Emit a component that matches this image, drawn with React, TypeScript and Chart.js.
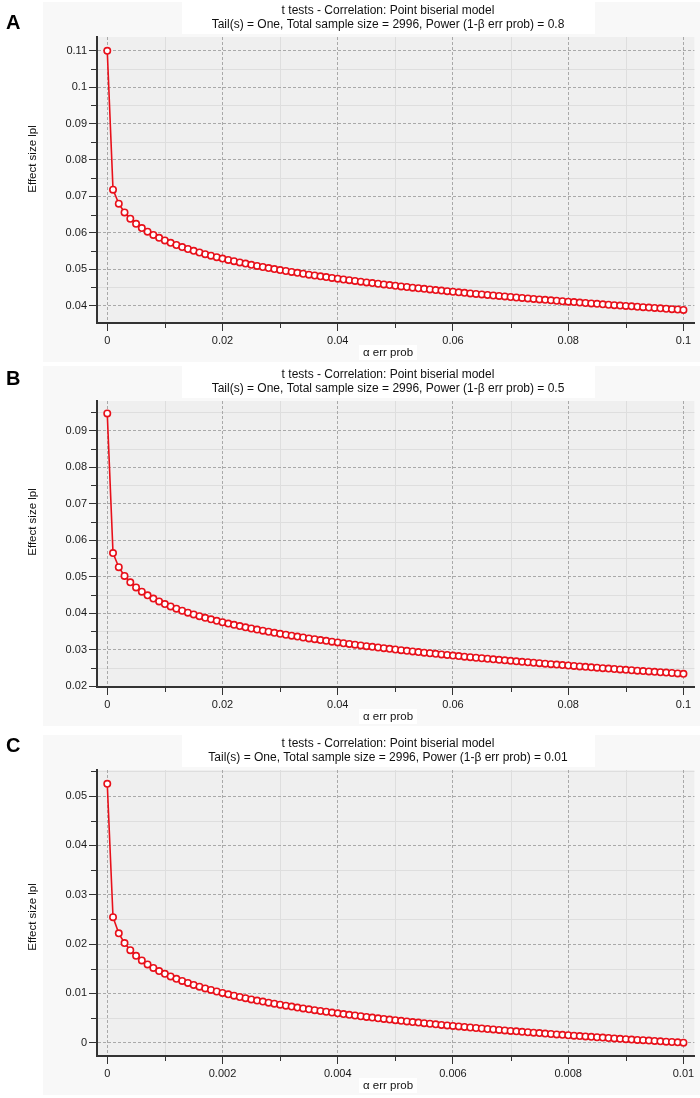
import React, { useEffect, useRef } from "react";
import { Chart, registerables } from "chart.js";

Chart.register(...registerables);

// ---------- data ----------
const alphaAB = [
  0, 0.001, 0.002, 0.003, 0.004, 0.005, 0.006, 0.007, 0.008, 0.009,
  0.01, 0.011, 0.012, 0.013, 0.014, 0.015, 0.016, 0.017, 0.018, 0.019,
  0.02, 0.021, 0.022, 0.023, 0.024, 0.025, 0.026, 0.027, 0.028, 0.029,
  0.03, 0.031, 0.032, 0.033, 0.034, 0.035, 0.036, 0.037, 0.038, 0.039,
  0.04, 0.041, 0.042, 0.043, 0.044, 0.045, 0.046, 0.047, 0.048, 0.049,
  0.05, 0.051, 0.052, 0.053, 0.054, 0.055, 0.056, 0.057, 0.058, 0.059,
  0.06, 0.061, 0.062, 0.063, 0.064, 0.065, 0.066, 0.067, 0.068, 0.069,
  0.07, 0.071, 0.072, 0.073, 0.074, 0.075, 0.076, 0.077, 0.078, 0.079,
  0.08, 0.081, 0.082, 0.083, 0.084, 0.085, 0.086, 0.087, 0.088, 0.089,
  0.09, 0.091, 0.092, 0.093, 0.094, 0.095, 0.096, 0.097, 0.098, 0.099,
  0.1,
];

const alphaC = [
  0, 0.0001, 0.0002, 0.0003, 0.0004, 0.0005, 0.0006, 0.0007, 0.0008, 0.0009,
  0.001, 0.0011, 0.0012, 0.0013, 0.0014, 0.0015, 0.0016, 0.0017, 0.0018, 0.0019,
  0.002, 0.0021, 0.0022, 0.0023, 0.0024, 0.0025, 0.0026, 0.0027, 0.0028, 0.0029,
  0.003, 0.0031, 0.0032, 0.0033, 0.0034, 0.0035, 0.0036, 0.0037, 0.0038, 0.0039,
  0.004, 0.0041, 0.0042, 0.0043, 0.0044, 0.0045, 0.0046, 0.0047, 0.0048, 0.0049,
  0.005, 0.0051, 0.0052, 0.0053, 0.0054, 0.0055, 0.0056, 0.0057, 0.0058, 0.0059,
  0.006, 0.0061, 0.0062, 0.0063, 0.0064, 0.0065, 0.0066, 0.0067, 0.0068, 0.0069,
  0.007, 0.0071, 0.0072, 0.0073, 0.0074, 0.0075, 0.0076, 0.0077, 0.0078, 0.0079,
  0.008, 0.0081, 0.0082, 0.0083, 0.0084, 0.0085, 0.0086, 0.0087, 0.0088, 0.0089,
  0.009, 0.0091, 0.0092, 0.0093, 0.0094, 0.0095, 0.0096, 0.0097, 0.0098, 0.0099,
  0.01,
];

const effectA = [
  0.11, 0.07185, 0.06798, 0.0656, 0.06385, 0.06245, 0.06129, 0.06029, 0.0594, 0.05861,
  0.05789, 0.05724, 0.05663, 0.05606, 0.05554, 0.05504, 0.05457, 0.05412, 0.0537, 0.0533,
  0.05291, 0.05254, 0.05219, 0.05185, 0.05152, 0.0512, 0.05089, 0.05059, 0.0503, 0.05002,
  0.04975, 0.04949, 0.04923, 0.04898, 0.04873, 0.04849, 0.04826, 0.04803, 0.04781, 0.04759,
  0.04737, 0.04716, 0.04696, 0.04676, 0.04656, 0.04636, 0.04617, 0.04599, 0.0458, 0.04562,
  0.04544, 0.04526, 0.04509, 0.04492, 0.04475, 0.04459, 0.04442, 0.04426, 0.0441, 0.04395,
  0.04379, 0.04364, 0.04349, 0.04334, 0.04319, 0.04305, 0.04291, 0.04276, 0.04263, 0.04249,
  0.04235, 0.04221, 0.04208, 0.04195, 0.04182, 0.04169, 0.04156, 0.04143, 0.04131, 0.04118,
  0.04106, 0.04094, 0.04081, 0.04069, 0.04058, 0.04046, 0.04034, 0.04022, 0.04011, 0.03999,
  0.03988, 0.03977, 0.03966, 0.03955, 0.03944, 0.03933, 0.03922, 0.03912, 0.03901, 0.03891,
  0.0388,
];

const effectB = [
  0.0947, 0.05647, 0.0526, 0.05022, 0.04847, 0.04707, 0.04591, 0.04491, 0.04402, 0.04323,
  0.04251, 0.04186, 0.04125, 0.04068, 0.04016, 0.03966, 0.03919, 0.03874, 0.03832, 0.03792,
  0.03753, 0.03716, 0.03681, 0.03647, 0.03614, 0.03582, 0.03551, 0.03521, 0.03492, 0.03464,
  0.03437, 0.03411, 0.03385, 0.0336, 0.03335, 0.03311, 0.03288, 0.03265, 0.03243, 0.03221,
  0.03199, 0.03178, 0.03158, 0.03138, 0.03118, 0.03098, 0.03079, 0.03061, 0.03042, 0.03024,
  0.03006, 0.02988, 0.02971, 0.02954, 0.02937, 0.02921, 0.02904, 0.02888, 0.02872, 0.02857,
  0.02841, 0.02826, 0.02811, 0.02796, 0.02781, 0.02767, 0.02753, 0.02738, 0.02725, 0.02711,
  0.02697, 0.02683, 0.0267, 0.02657, 0.02644, 0.02631, 0.02618, 0.02605, 0.02593, 0.0258,
  0.02568, 0.02556, 0.02543, 0.02531, 0.0252, 0.02508, 0.02496, 0.02484, 0.02473, 0.02461,
  0.0245, 0.02439, 0.02428, 0.02417, 0.02406, 0.02395, 0.02384, 0.02374, 0.02363, 0.02353,
  0.02342,
];

const effectC = [
  0.0525, 0.02545, 0.02218, 0.0202, 0.01876, 0.01762, 0.01668, 0.01587, 0.01516, 0.01453,
  0.01396, 0.01344, 0.01296, 0.01252, 0.01211, 0.01172, 0.01136, 0.01101, 0.01069, 0.01038,
  0.01009, 0.0098, 0.00953, 0.00927, 0.00903, 0.00878, 0.00855, 0.00833, 0.00811, 0.00791,
  0.0077, 0.00751, 0.00732, 0.00713, 0.00695, 0.00677, 0.0066, 0.00643, 0.00627, 0.00611,
  0.00595, 0.0058, 0.00565, 0.00551, 0.00536, 0.00522, 0.00509, 0.00495, 0.00482, 0.00469,
  0.00456, 0.00444, 0.00431, 0.00419, 0.00407, 0.00395, 0.00384, 0.00373, 0.00361, 0.00351,
  0.0034, 0.00329, 0.00319, 0.00308, 0.00298, 0.00288, 0.00278, 0.00268, 0.00258, 0.00249,
  0.00239, 0.0023, 0.00221, 0.00212, 0.00203, 0.00194, 0.00185, 0.00176, 0.00168, 0.00159,
  0.00151, 0.00143, 0.00135, 0.00126, 0.00118, 0.0011, 0.00103, 0.00095, 0.00087, 0.00079,
  0.00072, 0.00064, 0.00057, 0.0005, 0.00042, 0.00035, 0.00028, 0.00021, 0.00014, 0.00007,
  0,
];

const xTicksAB = [0, 0.02, 0.04, 0.06, 0.08, 0.1];
const xMinorAB = [0.01, 0.03, 0.05, 0.07, 0.09];
const xTicksC = [0, 0.002, 0.004, 0.006, 0.008, 0.01];
const xMinorC = [0.001, 0.003, 0.005, 0.007, 0.009];

const yTicksA = [0.04, 0.05, 0.06, 0.07, 0.08, 0.09, 0.1, 0.11];
const yMinorA = [0.045, 0.055, 0.065, 0.075, 0.085, 0.095, 0.105];
const yTicksB = [0.02, 0.03, 0.04, 0.05, 0.06, 0.07, 0.08, 0.09];
const yMinorB = [0.025, 0.035, 0.045, 0.055, 0.065, 0.075, 0.085, 0.095];
const yTicksC = [0, 0.01, 0.02, 0.03, 0.04, 0.05];
const yMinorC = [0.005, 0.015, 0.025, 0.035, 0.045, 0.055];

const titleLine1 = "t tests - Correlation: Point biserial model";
const titleLine2A = "Tail(s) = One, Total sample size = 2996, Power (1-\u03b2 err prob) = 0.8";
const titleLine2B = "Tail(s) = One, Total sample size = 2996, Power (1-\u03b2 err prob) = 0.5";
const titleLine2C = "Tail(s) = One, Total sample size = 2996, Power (1-\u03b2 err prob) = 0.01";
const xAxisTitle = "\u03b1 err prob";
const yAxisTitle = "Effect size lpl";

// ---------- panel configs ----------
type PanelCfg = {
  letter: string;
  letterY: number;
  top: number;
  title2: string;
  xs: number[];
  ys: number[];
  xTicks: number[];
  xMinor: number[];
  yTicks: number[];
  yMinor: number[];
  xMin: number;
  xMax: number;
  yMin: number;
  yMax: number;
  yLabelY: number;
};

const panels: PanelCfg[] = [
  {
    letter: "A", letterY: 21, top: 2, title2: titleLine2A,
    xs: alphaAB, ys: effectA, xTicks: xTicksAB, xMinor: xMinorAB,
    yTicks: yTicksA, yMinor: yMinorA,
    xMin: -0.00178, xMax: 0.1019, yMin: 0.0352, yMax: 0.1138, yLabelY: 157,
  },
  {
    letter: "B", letterY: 13, top: 366, title2: titleLine2B,
    xs: alphaAB, ys: effectB, xTicks: xTicksAB, xMinor: xMinorAB,
    yTicks: yTicksB, yMinor: yMinorB,
    xMin: -0.00178, xMax: 0.1019, yMin: 0.0198, yMax: 0.0981, yLabelY: 156,
  },
  {
    letter: "C", letterY: 11, top: 735, title2: titleLine2C,
    xs: alphaC, ys: effectC, xTicks: xTicksC, xMinor: xMinorC,
    yTicks: yTicksC, yMinor: yMinorC,
    xMin: -0.000178, xMax: 0.01019, yMin: -0.0027, yMax: 0.0553, yLabelY: 182,
  },
];

const FONT = '"Liberation Sans", Arial, Helvetica, sans-serif';
const RED = "#e8101a";
const W = 700;
const H = 360;

function decoPlugin(cfg: PanelCfg) {
  return {
    id: "panelDeco" + cfg.letter,
    beforeDraw(chart: any) {
      const { ctx, chartArea: ca } = chart;
      const x = chart.scales.x;
      const y = chart.scales.y;
      ctx.save();
      ctx.fillStyle = "#f8f8f8";
      ctx.fillRect(43, 0, W - 43, H);
      ctx.fillStyle = "#ffffff";
      ctx.fillRect(182, 0, 413, 32);
      ctx.fillStyle = "#efefef";
      ctx.fillRect(ca.left, ca.top, ca.right - ca.left, ca.bottom - ca.top);
      ctx.strokeStyle = "#dedede";
      ctx.lineWidth = 1;
      ctx.beginPath();
      for (const v of cfg.xMinor) {
        const px = Math.round(x.getPixelForValue(v)) + 0.5;
        ctx.moveTo(px, ca.top);
        ctx.lineTo(px, ca.bottom);
      }
      for (const v of cfg.yMinor) {
        const py = Math.round(y.getPixelForValue(v)) + 0.5;
        if (py < ca.top || py > ca.bottom) continue;
        ctx.moveTo(ca.left, py);
        ctx.lineTo(ca.right, py);
      }
      ctx.stroke();
      ctx.strokeStyle = "#333333";
      ctx.beginPath();
      for (const v of cfg.xMinor) {
        const px = Math.round(x.getPixelForValue(v)) + 0.5;
        ctx.moveTo(px, ca.bottom);
        ctx.lineTo(px, ca.bottom + 5);
      }
      for (const v of cfg.yMinor) {
        const py = Math.round(y.getPixelForValue(v)) + 0.5;
        if (py < ca.top || py > ca.bottom) continue;
        ctx.moveTo(ca.left - 6, py);
        ctx.lineTo(ca.left, py);
      }
      ctx.stroke();
      ctx.restore();
    },
    afterDraw(chart: any) {
      const { ctx } = chart;
      ctx.save();
      ctx.fillStyle = "#111";
      ctx.font = `12px ${FONT}`;
      ctx.textAlign = "center";
      ctx.textBaseline = "middle";
      ctx.fillText(titleLine1, 388, 9);
      ctx.fillText(cfg.title2, 388, 23);
      ctx.font = `11.5px ${FONT}`;
      const xw = ctx.measureText(xAxisTitle).width;
      ctx.fillStyle = "#ffffff";
      ctx.fillRect(388 - xw / 2 - 4, 343, xw + 8, 15);
      ctx.fillStyle = "#111";
      ctx.fillText(xAxisTitle, 388, 351);
      const yw = ctx.measureText(yAxisTitle).width;
      ctx.translate(33, cfg.yLabelY);
      ctx.rotate(-Math.PI / 2);
      ctx.fillStyle = "#ffffff";
      ctx.fillRect(-yw / 2 - 3, -8, yw + 6, 15);
      ctx.fillStyle = "#111";
      ctx.fillText(yAxisTitle, 0, 0);
      ctx.restore();
      ctx.save();
      ctx.fillStyle = "#000";
      ctx.font = `bold 20px ${FONT}`;
      ctx.textAlign = "left";
      ctx.textBaseline = "middle";
      ctx.fillText(cfg.letter, 6, cfg.letterY);
      ctx.restore();
    },
  };
}

function Panel({ cfg }: { cfg: PanelCfg }) {
  const ref = useRef<HTMLCanvasElement>(null);
  useEffect(() => {
    const canvas = ref.current;
    if (!canvas) return;
    const points = cfg.xs.map((a, i) => ({ x: a, y: cfg.ys[i] }));
    const chart = new Chart(canvas, {
      type: "scatter",
      data: {
        datasets: [
          {
            data: points,
            showLine: true,
            borderColor: RED,
            borderWidth: 1.6,
            pointRadius: 3.2,
            pointBorderWidth: 1.6,
            pointBackgroundColor: "#ffffff",
            pointBorderColor: RED,
            tension: 0,
          },
        ],
      },
      options: {
        responsive: false,
        animation: false,
        devicePixelRatio: 1,
        layout: { padding: { left: 0, top: 35, right: 3, bottom: 0 } },
        plugins: { legend: { display: false }, tooltip: { enabled: false }, title: { display: false } },
        scales: {
          x: {
            type: "linear",
            min: cfg.xMin,
            max: cfg.xMax,
            afterBuildTicks: (s: any) => {
              s.ticks = cfg.xTicks.map((v) => ({ value: v }));
            },
            afterFit: (s: any) => {
              s.height = 39;
            },
            ticks: {
              autoSkip: false,
              maxRotation: 0,
              padding: 3,
              color: "#1a1a1a",
              font: { family: FONT, size: 11 },
              callback: (v: any) => String(v),
            },
            grid: {
              color: "#a9a9a9",
              lineWidth: 1,
              tickColor: "#333333",
              tickLength: 8,
              tickWidth: 1,
            },
            border: { display: true, color: "#333333", width: 2, dash: [3, 2] },
          },
          y: {
            type: "linear",
            min: cfg.yMin,
            max: cfg.yMax,
            afterBuildTicks: (s: any) => {
              s.ticks = cfg.yTicks.map((v) => ({ value: v }));
            },
            afterFit: (s: any) => {
              s.width = 97;
            },
            ticks: {
              autoSkip: false,
              padding: 2,
              color: "#1a1a1a",
              font: { family: FONT, size: 11 },
              callback: (v: any) => String(v),
            },
            grid: {
              color: "#a9a9a9",
              lineWidth: 1,
              tickColor: "#333333",
              tickLength: 8,
              tickWidth: 1,
            },
            border: { display: true, color: "#333333", width: 2, dash: [3, 2] },
          },
        },
      },
      plugins: [decoPlugin(cfg)],
    } as any);
    return () => chart.destroy();
  }, [cfg]);
  return (
    <canvas
      ref={ref}
      width={W}
      height={H}
      style={{ position: "absolute", left: 0, top: cfg.top, width: W, height: H, display: "block" }}
    />
  );
}

export default function App() {
  return (
    <div style={{ position: "absolute", left: 0, top: 0, width: 700, height: 1098, background: "#ffffff" }}>
      {panels.map((p) => (
        <Panel key={p.letter} cfg={p} />
      ))}
    </div>
  );
}
